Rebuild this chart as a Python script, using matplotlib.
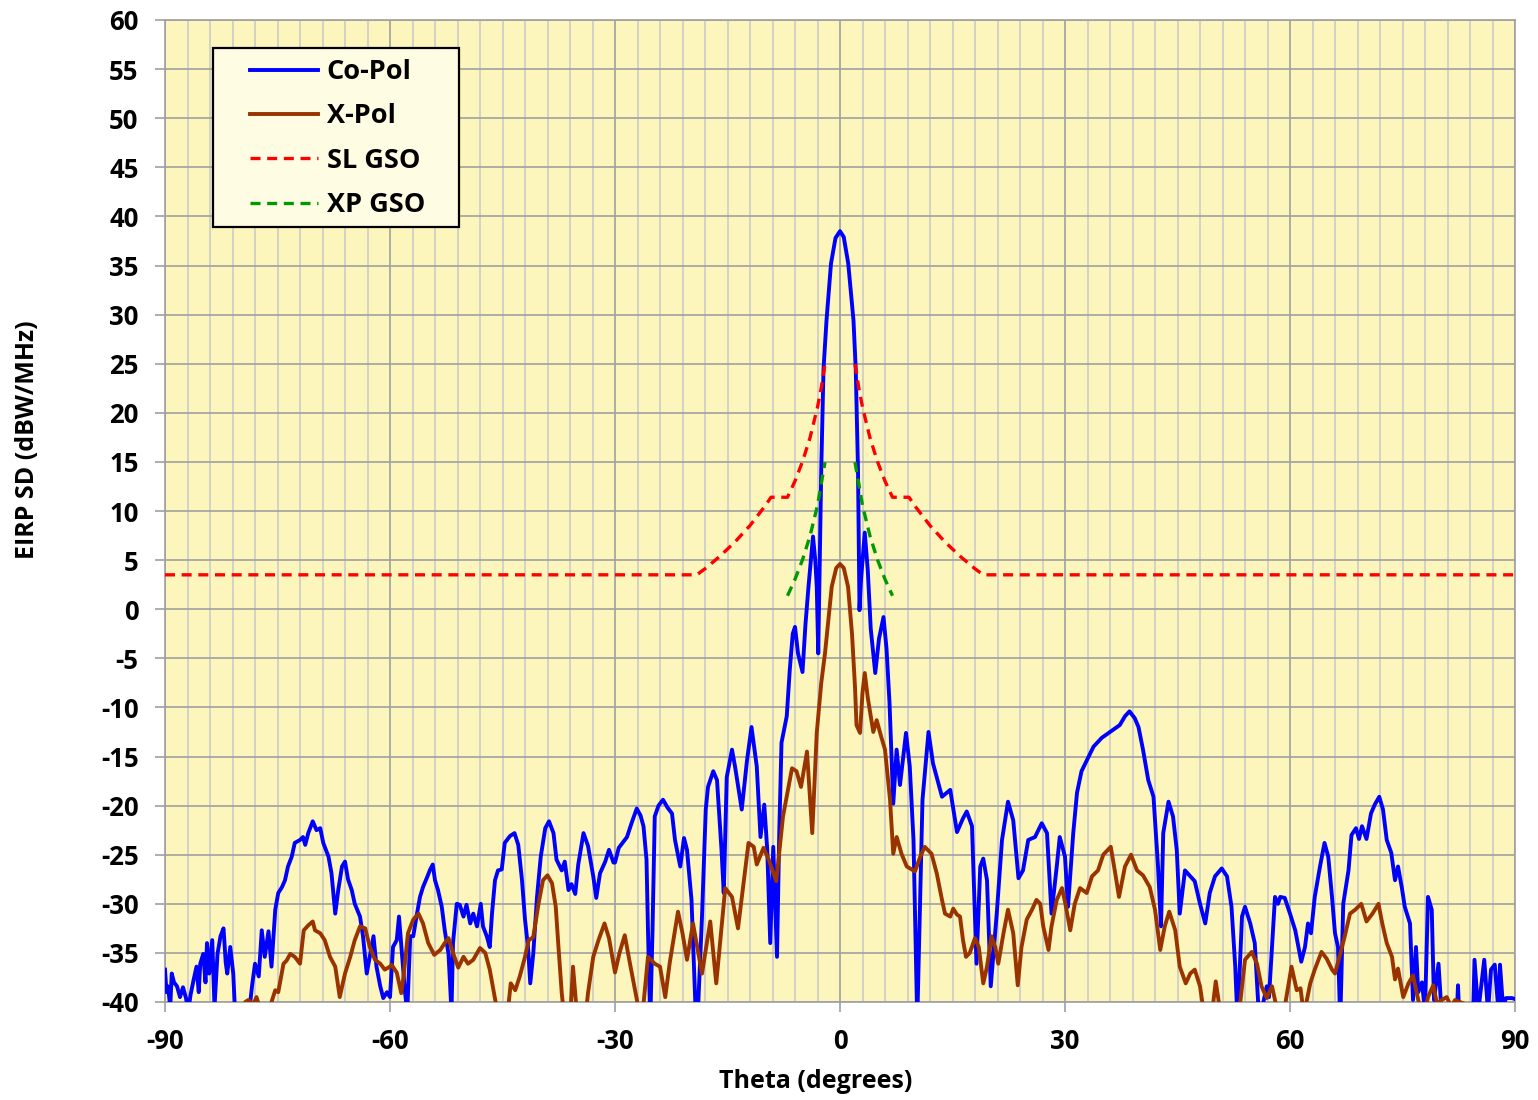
import matplotlib
matplotlib.use("Agg")
import matplotlib.pyplot as plt
from matplotlib.ticker import MultipleLocator
from matplotlib.patches import Rectangle
import numpy as np

# ---------------- data ----------------
copol_theta = [
    -90.0, -89.8, -89.6, -89.3, -89.1, -88.8, -88.4, -88.0, -87.6, -87.2, -86.9, -86.6, -86.2, -85.8,
    -85.5, -85.3, -84.9, -84.6, -84.4, -84.1, -83.7, -83.4, -83.0, -82.6, -82.2, -81.9, -81.7, -81.3,
    -80.9, -80.6, -80.0, -79.0, -78.7, -78.4, -78.0, -77.5, -77.1, -76.7, -76.2, -75.8, -75.3, -74.9,
    -74.4, -74.0, -73.6, -73.1, -72.7, -72.0, -71.6, -71.3, -70.9, -70.3, -69.8, -69.3, -68.9, -68.2,
    -67.8, -67.3, -66.9, -66.4, -66.0, -65.6, -65.1, -64.7, -64.0, -63.6, -63.1, -62.7, -62.2, -61.8,
    -61.3, -60.9, -60.4, -60.0, -59.6, -59.1, -58.8, -58.4, -58.0, -57.7, -57.3, -56.9, -56.4, -56.0,
    -55.6, -55.0, -54.7, -54.3, -54.0, -53.6, -53.1, -52.7, -52.2, -51.8, -51.6, -51.1, -50.7, -50.2,
    -49.8, -49.3, -48.9, -48.4, -47.9, -47.6, -47.1, -46.7, -46.4, -46.0, -45.6, -45.1, -44.7, -44.0,
    -43.4, -42.9, -42.4, -42.0, -41.6, -41.3, -40.9, -40.4, -39.9, -39.3, -38.8, -38.2, -37.8, -37.1,
    -36.7, -36.2, -35.8, -35.3, -34.9, -34.2, -33.6, -32.9, -32.5, -32.0, -31.3, -30.8, -30.2, -30.0,
    -29.5, -28.4, -27.8, -27.1, -26.6, -26.2, -25.8, -25.6, -25.3, -25.0, -24.7, -24.2, -23.6, -23.0,
    -22.4, -22.0, -21.3, -20.8, -20.4, -19.8, -19.2, -19.0, -18.4, -17.9, -17.6, -16.9, -16.4, -15.8,
    -15.5, -15.1, -14.4, -14.0, -13.1, -12.4, -11.8, -11.1, -10.6, -10.1, -9.7, -9.3, -8.9, -8.4,
    -8.1, -7.8, -7.1, -6.7, -6.3, -6.0, -5.6, -5.0, -4.6, -4.2, -3.6, -3.3, -3.1, -2.9,
    -2.5, -2.2, -1.8, -1.2, -0.6, 0.0, 0.5, 1.1, 1.8, 2.1, 2.4, 2.6, 2.8, 3.3,
    3.7, 4.1, 4.7, 5.2, 5.8, 6.2, 6.6, 7.1, 7.55, 8.0, 8.8, 9.3, 9.8, 10.3,
    11.0, 11.8, 12.4, 13.6, 14.7, 15.6, 16.4, 16.9, 17.6, 18.2, 18.7, 19.1, 19.6, 20.1,
    20.9, 21.6, 22.4, 23.1, 23.8, 24.4, 25.1, 26.0, 26.9, 27.6, 28.2, 28.9, 29.3, 30.0,
    30.4, 31.1, 31.6, 32.2, 32.9, 33.8, 34.9, 36.0, 37.3, 38.0, 38.6, 39.3, 39.8, 40.4,
    41.1, 41.8, 42.4, 42.8, 43.1, 43.8, 44.4, 44.9, 45.3, 46.0, 46.7, 47.3, 48.0, 48.7,
    49.3, 50.0, 50.9, 51.6, 52.2, 52.7, 53.0, 53.6, 54.0, 54.7, 55.3, 55.9, 56.9, 57.2,
    58.0, 58.4, 58.7, 59.3, 60.0, 60.7, 61.5, 62.0, 62.4, 62.8, 63.3, 64.0, 64.6, 65.1,
    65.6, 66.0, 66.4, 66.7, 67.1, 67.8, 68.2, 68.8, 69.2, 69.6, 70.2, 70.8, 71.3, 71.9,
    72.4, 72.9, 73.5, 74.0, 74.4, 74.9, 75.3, 76.0, 76.4, 76.8, 77.1, 77.6, 78.0, 78.4,
    78.9, 79.2, 79.8, 80.2, 81.0, 82.2, 82.4, 82.6, 84.4, 84.6, 85.1, 85.9, 86.4, 86.8,
    87.3, 87.8, 88.0, 88.4, 88.8, 89.6, 90.0,
]
copol_db = [
    -36.7, -39.0, -38.4, -40.5, -37.1, -38.0, -38.4, -39.5, -38.5, -39.6, -41.0, -39.3, -37.8, -36.4,
    -39.0, -36.1, -35.1, -38.0, -34.0, -37.1, -33.7, -40.5, -35.1, -33.3, -32.5, -36.0, -37.1, -34.4,
    -37.1, -42.0, -45.0, -45.0, -40.5, -38.4, -36.1, -37.4, -32.7, -35.4, -32.8, -36.4, -30.6, -28.9,
    -28.3, -27.6, -26.2, -25.2, -23.8, -23.5, -23.2, -24.0, -22.8, -21.6, -22.5, -22.3, -23.8, -25.2,
    -26.9, -31.0, -28.6, -26.2, -25.7, -27.5, -28.6, -30.0, -31.3, -33.3, -37.1, -35.4, -33.3, -36.4,
    -38.4, -39.6, -39.0, -39.5, -34.4, -33.7, -31.3, -35.1, -39.0, -41.0, -33.3, -33.3, -31.0, -29.3,
    -28.3, -27.2, -26.6, -26.0, -27.6, -28.6, -30.3, -32.7, -35.1, -41.0, -34.0, -30.0, -30.1, -31.3,
    -30.1, -32.0, -31.0, -32.3, -30.0, -32.3, -33.3, -34.4, -31.0, -27.6, -26.6, -26.5, -23.8, -23.1,
    -22.8, -24.0, -27.6, -31.6, -34.4, -38.1, -35.1, -29.3, -25.2, -22.3, -21.6, -22.8, -25.5, -26.6,
    -25.7, -28.6, -28.0, -29.0, -26.0, -22.8, -24.1, -27.2, -29.4, -26.9, -25.7, -24.5, -25.8, -25.8,
    -24.3, -23.2, -21.8, -20.3, -21.0, -22.1, -25.5, -32.8, -42.0, -32.8, -21.1, -20.0, -19.4, -20.2,
    -20.8, -23.5, -26.2, -23.3, -24.5, -29.6, -42.0, -42.0, -31.3, -20.4, -18.1, -16.5, -17.4, -24.5,
    -28.9, -17.1, -14.3, -16.0, -20.4, -15.4, -12.0, -16.0, -23.2, -19.9, -24.5, -34.0, -24.2, -35.4,
    -22.8, -13.6, -10.9, -6.2, -2.5, -1.8, -4.5, -6.4, -1.5, 2.3, 7.4, 5.0, 2.3, -4.5,
    14.2, 24.4, 29.4, 35.2, 37.8, 38.5, 37.9, 35.2, 29.4, 24.4, 14.2, -0.1, 3.0, 7.8,
    4.0, -2.0, -6.5, -3.0, -0.8, -4.0, -9.5, -19.8, -14.3, -17.9, -12.6, -16.0, -23.5, -42.0,
    -19.4, -12.5, -15.7, -19.1, -18.4, -22.7, -21.3, -20.6, -22.1, -36.1, -26.2, -25.4, -27.6, -38.4,
    -31.0, -23.5, -19.6, -21.5, -27.4, -26.6, -23.5, -23.2, -21.8, -22.8, -31.0, -26.2, -23.2, -25.2,
    -30.3, -22.8, -18.7, -16.5, -15.4, -14.0, -13.1, -12.5, -11.8, -10.9, -10.4, -11.1, -12.0, -14.3,
    -17.4, -19.1, -26.2, -32.3, -22.8, -19.6, -21.1, -24.5, -31.0, -26.6, -27.2, -27.7, -30.0, -32.0,
    -28.9, -27.2, -26.4, -27.2, -30.3, -36.4, -42.0, -31.3, -30.3, -32.0, -34.0, -42.0, -38.4, -39.5,
    -29.3, -30.0, -29.3, -29.4, -31.0, -32.7, -35.9, -34.4, -32.0, -33.0, -29.3, -26.2, -23.8, -25.2,
    -29.3, -33.0, -34.4, -42.0, -30.0, -26.6, -23.0, -22.3, -23.4, -22.1, -23.4, -20.8, -19.9, -19.1,
    -20.4, -23.5, -24.8, -27.6, -26.2, -28.3, -30.3, -32.0, -39.8, -34.4, -39.0, -38.0, -41.0, -29.3,
    -30.6, -39.8, -36.1, -41.0, -43.0, -42.0, -38.3, -42.0, -42.0, -35.7, -41.0, -35.7, -41.0, -36.7,
    -36.2, -41.0, -36.2, -40.5, -39.6, -39.6, -39.7,
]

xpol_theta = [
    -80.5, -79.3, -78.9, -78.2, -77.8, -77.2, -76.3, -75.8, -75.3, -74.9, -74.2, -73.8, -73.3, -72.7,
    -72.0, -71.5, -70.9, -70.3, -70.0, -69.3, -68.7, -68.0, -67.3, -66.7, -66.0, -65.3, -64.7, -64.0,
    -63.3, -62.7, -62.0, -61.3, -60.7, -60.0, -59.8, -59.1, -58.5, -58.2, -57.6, -56.9, -56.2, -55.6,
    -54.9, -54.1, -53.3, -52.7, -52.2, -51.6, -50.9, -50.2, -49.6, -48.9, -48.0, -47.3, -46.7, -46.2,
    -45.8, -45.0, -44.3, -43.9, -43.3, -42.7, -42.0, -41.5, -40.9, -40.2, -39.6, -39.0, -38.4, -37.9,
    -37.6, -37.1, -36.7, -36.0, -35.6, -35.1, -34.0, -33.6, -32.9, -32.2, -31.4, -30.8, -30.0, -29.4,
    -28.7, -28.0, -26.9, -26.3, -25.6, -24.7, -24.0, -23.3, -22.7, -21.6, -21.0, -20.4, -19.6, -18.4,
    -17.3, -16.5, -15.3, -14.4, -13.6, -12.2, -11.5, -11.1, -10.2, -9.5, -8.5, -7.6, -6.4, -5.8,
    -5.2, -4.4, -3.7, -3.1, -2.7, -2.5, -2.0, -1.1, -0.5, 0.0, 0.5, 1.07, 1.6, 2.0,
    2.2, 2.67, 3.0, 3.3, 3.7, 4.44, 4.89, 5.5, 6.0, 6.67, 7.1, 7.56, 8.2, 8.9,
    10.0, 10.7, 11.3, 12.2, 12.9, 13.6, 14.0, 14.7, 15.1, 15.6, 16.0, 16.4, 16.8, 17.3,
    18.0, 18.5, 19.1, 19.6, 20.2, 20.7, 21.1, 21.8, 22.4, 23.1, 23.7, 24.2, 24.9, 25.6,
    26.2, 26.7, 27.1, 27.8, 28.2, 28.9, 29.6, 30.0, 30.7, 31.3, 32.0, 32.9, 33.6, 34.4,
    35.1, 36.1, 36.7, 37.2, 38.0, 38.8, 39.6, 40.4, 41.3, 42.0, 42.7, 43.3, 43.9, 44.7,
    45.3, 46.1, 46.7, 47.3, 48.0, 48.4, 49.0, 49.7, 50.1, 50.6, 51.5, 53.3, 54.0, 54.9,
    55.6, 56.2, 56.9, 57.6, 58.2, 59.3, 60.2, 60.9, 61.4, 61.8, 62.2, 62.7, 63.3, 64.2,
    64.9, 65.6, 66.0, 66.7, 67.3, 68.0, 68.7, 69.5, 70.2, 71.0, 71.8, 72.3, 72.9, 73.6,
    74.0, 74.4, 75.1, 75.8, 76.4, 76.9, 77.3, 78.0, 78.4, 79.1, 79.6, 80.2, 80.9, 81.5,
    82.0, 83.3, 84.0,
]
xpol_db = [
    -42.0, -40.0, -39.8, -40.2, -39.5, -41.0, -42.0, -40.0, -38.8, -39.0, -36.1, -35.8, -35.1, -35.4,
    -36.1, -32.7, -32.2, -31.8, -32.7, -33.0, -33.7, -35.4, -36.4, -39.5, -37.1, -35.4, -33.7, -32.3,
    -32.5, -34.4, -35.7, -36.1, -36.7, -36.4, -36.2, -37.0, -39.1, -37.4, -33.0, -31.6, -31.0, -32.0,
    -34.0, -35.2, -34.7, -34.0, -33.5, -35.0, -36.5, -35.4, -36.1, -35.7, -34.5, -35.0, -36.7, -38.8,
    -40.5, -42.0, -41.0, -38.1, -38.8, -37.4, -35.4, -33.7, -33.4, -30.0, -27.6, -27.1, -27.9, -30.3,
    -33.7, -39.1, -42.0, -42.0, -36.4, -41.0, -42.0, -39.1, -35.4, -33.7, -32.0, -33.5, -37.0, -35.0,
    -33.2, -36.1, -40.5, -41.0, -35.4, -36.1, -36.4, -39.5, -36.0, -30.8, -33.0, -35.7, -32.0, -37.1,
    -31.8, -38.1, -28.4, -29.3, -32.5, -23.8, -24.2, -26.0, -24.3, -25.5, -27.7, -21.1, -16.2, -16.5,
    -18.1, -14.5, -22.8, -12.6, -9.2, -7.5, -4.5, 2.3, 4.2, 4.6, 4.2, 2.3, -2.5, -7.9,
    -11.8, -12.6, -8.5, -6.5, -9.0, -12.5, -11.3, -13.0, -14.3, -19.4, -24.9, -23.2, -24.9, -26.2,
    -26.7, -25.2, -24.2, -24.9, -26.9, -29.6, -31.0, -31.3, -30.5, -31.1, -31.3, -33.7, -35.4, -35.0,
    -33.5, -34.4, -38.1, -36.4, -33.3, -34.4, -36.1, -33.0, -30.6, -33.0, -38.3, -34.4, -31.6, -30.6,
    -29.6, -30.0, -32.3, -34.7, -32.3, -29.6, -28.4, -29.8, -32.7, -30.0, -28.4, -28.9, -27.2, -26.6,
    -25.0, -24.2, -26.9, -29.3, -26.2, -25.0, -26.6, -27.1, -28.3, -30.6, -34.7, -32.3, -30.8, -32.7,
    -36.4, -38.1, -37.1, -36.7, -38.4, -40.5, -42.0, -40.5, -37.9, -40.5, -42.0, -40.5, -35.7, -34.9,
    -36.1, -38.4, -39.6, -38.4, -40.5, -40.5, -36.4, -38.8, -38.6, -41.0, -40.0, -38.1, -36.7, -34.9,
    -35.6, -36.7, -37.1, -35.1, -33.3, -31.0, -30.6, -30.0, -31.8, -31.0, -30.0, -32.0, -34.0, -35.4,
    -37.7, -36.6, -39.5, -38.1, -37.3, -39.1, -40.5, -41.0, -39.5, -38.3, -40.2, -39.8, -39.5, -40.5,
    -39.8, -40.2, -40.3,
]

sl_theta = [-90, -19.1, -18, -16, -14, -12, -10, -9.2, -7, -6, -5, -4, -3, -2.5, -2,
            None,
            2, 2.5, 3, 4, 5, 6, 7, 9.2, 10, 12, 14, 16, 18, 19.1, 90]
sl_db = [3.5, 3.5, 4.12, 5.40, 6.85, 8.52, 10.5, 11.4, 11.4, 13.05, 15.03, 17.45, 20.57, 22.55, 24.97,
         None,
         24.97, 22.55, 20.57, 17.45, 15.03, 13.05, 11.4, 11.4, 10.5, 8.52, 6.85, 5.40, 4.12, 3.5, 3.5]

xp_theta = [-7, -6, -5, -4, -3, -2, None, 2, 3, 4, 5, 6, 7]
xp_db = [1.37, 3.05, 5.03, 7.45, 10.57, 14.97, None, 14.97, 10.57, 7.45, 5.03, 3.05, 1.37]

series_labels = ["Co-Pol", "X-Pol", "SL GSO", "XP GSO"]
x_ticks = [-90, -60, -30, 0, 30, 60, 90]
y_ticks = list(range(-40, 61, 5))

# ---------------- figure ----------------
plt.rcParams['font.family'] = ['Open Sans', 'DejaVu Sans']
plt.rcParams['font.weight'] = 'bold'
plt.rcParams['axes.unicode_minus'] = False

W, H = 1538, 1100
fig = plt.figure(figsize=(W / 100, H / 100), dpi=100)
ax = fig.add_axes([165 / W, 1 - 1002 / H, 1350 / W, 982 / H])
ax.set_facecolor('#FDF6BC')


def split(xs, ys):
    xs = np.array([np.nan if v is None else v for v in xs], dtype=float)
    ys = np.array([np.nan if v is None else v for v in ys], dtype=float)
    return xs, ys


ax.plot(copol_theta, copol_db, color='#0000FF', lw=2.8, label=series_labels[0], zorder=3)
ax.plot(xpol_theta, xpol_db, color='#993300', lw=2.8, label=series_labels[1], zorder=3)
sx, sy = split(sl_theta, sl_db)
ax.plot(sx, sy, color='#FF0000', lw=2.4, ls=(0, (3.0, 2.0)), label=series_labels[2], zorder=4)
gx, gy = split(xp_theta, xp_db)
ax.plot(gx, gy, color='#009900', lw=2.4, ls=(0, (3.0, 2.0)), label=series_labels[3], zorder=4)

ax.set_xlim(-90, 90)
ax.set_ylim(-40, 60)
ax.set_xticks(x_ticks)
ax.set_yticks(y_ticks)
ax.xaxis.set_minor_locator(MultipleLocator(3))

ax.grid(which='minor', axis='x', color='#C8C8C8', lw=1.1, zorder=0)
ax.grid(which='major', axis='x', color='#A0A0A0', lw=1.2, zorder=0)
ax.grid(which='major', axis='y', color='#A0A0A0', lw=1.2, zorder=0)
ax.set_axisbelow(True)

for s in ax.spines.values():
    s.set_color('#A0A0A0')
    s.set_linewidth(1.2)

ax.tick_params(axis='both', which='major', direction='out', length=7, width=1.2,
               color='#A0A0A0', labelsize=18.5)
ax.tick_params(axis='y', which='major', pad=12)
ax.tick_params(axis='x', which='major', pad=12)
ax.tick_params(axis='x', which='minor', length=0)
for lab in ax.get_xticklabels() + ax.get_yticklabels():
    lab.set_fontweight('bold')

# axis titles (placed as in the reference, which is not centred on the axes)
fig.text(816 / W, 1 - 1081 / H, 'Theta (degrees)', fontsize=18, fontweight='bold',
         ha='center', va='center')
fig.text(28 / W, 1 - 440 / H, 'EIRP SD (dBW/MHz)', fontsize=18, fontweight='bold',
         ha='center', va='center', rotation=90)

# legend box drawn as a rectangle, legend entries without frame
box = Rectangle((213 / W, 1 - 227 / H), (459 - 213) / W, (227 - 48) / H,
                transform=fig.transFigure, facecolor='#FEFCE3', edgecolor='black',
                lw=1.6, zorder=9, clip_on=False)
ax.add_patch(box)
leg = ax.legend(loc='upper left', bbox_to_anchor=(250 / W, 1 - 59 / H),
                bbox_transform=fig.transFigure, borderaxespad=0, borderpad=0,
                frameon=False, prop={'size': 19.5, 'weight': 'bold'},
                handlelength=2.5, handletextpad=0.33, labelspacing=0.68)
leg.set_zorder(10)

fig.savefig('out.png', dpi=100)
